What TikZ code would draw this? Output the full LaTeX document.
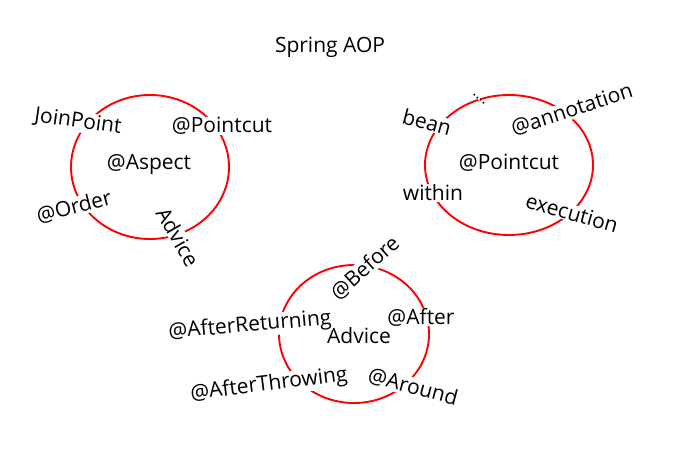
\documentclass[tikz,border=0pt]{standalone}
\usepackage{fontspec}
\setmainfont{Open Sans}
\usetikzlibrary{positioning}
\tikzset{
    %Define style for rings
    ring/.style={
           draw=red,
           line width=1.9pt},
    %Define style for labels
    word/.style={
           fill=white,
           inner sep=0.5pt,
           font=\fontsize{21}{25}\selectfont,
           text=black},
    hub/.style={
           word,
           fill=none}
}

\begin{document}
\begin{tikzpicture}[x=1pt,y=-1pt]
\useasboundingbox (0,0) rectangle (675,456);

\node[hub](title) at (330,47){Spring AOP};

% rings
\draw[ring] (150,167) ellipse [x radius=79, y radius=72];
\draw[ring] (509,165) ellipse [x radius=84, y radius=70];
\draw[ring] (354,334) ellipse [x radius=75, y radius=69];

% aspect ring
\node[hub](aspect) at (149,164){@Aspect};
\node[word, rotate=-8](join) at (78,122){JoinPoint};
\node[word](pcut) at (222,126){@Pointcut};
\node[word, rotate=15](order) at (74,207){@Order};
\node[word, rotate=-60](adv) at (178,237){Advice};

% pointcut ring
\node[hub](pointcut) at (509,163){@Pointcut};
\node[word, rotate=-15](bean) at (427,122){bean};
\node[word, rotate=-40, inner sep=0pt, font=\fontsize{15}{17}\selectfont](dots) at (479,99){....};
\node[word, rotate=18](anno) at (572,110){@annotation};
\node[word](within) at (433,193){within};
\node[word, rotate=-16](exec) at (572,213){execution};

% advice ring
\node[hub](advice) at (359,336){Advice};
\node[word, rotate=42](before) at (365,268){@Before};
\node[word](after) at (421,317){@After};
\node[word, rotate=5](afret) at (250,326){@AfterReturning};
\node[word, rotate=7](afthr) at (269,385){@AfterThrowing};
\node[word, rotate=-15](around) at (413,387){@Around};
\end{tikzpicture}
\end{document}
